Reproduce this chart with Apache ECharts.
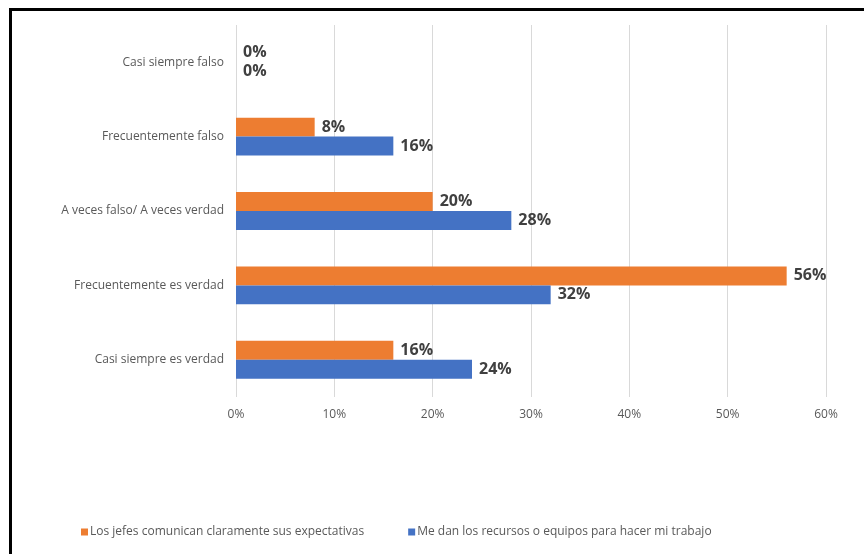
<!DOCTYPE html>
<html>
<head>
<meta charset="utf-8">
<script src="https://cdn.jsdelivr.net/npm/echarts@6/dist/echarts.min.js"></script>
<style>
  html, body { margin: 0; padding: 0; background: #fff; }
  #chart { width: 864px; height: 554px; }
</style>
</head>
<body>
<div id="chart"></div>
<script>
// categorias (de arriba hacia abajo)
var categorias = ['Casi siempre falso', 'Frecuentemente falso', 'A veces falso/ A veces verdad', 'Frecuentemente es verdad', 'Casi siempre es verdad'];
var nombres = ['Los jefes comunican claramente sus expectativas', 'Me dan los recursos o equipos para hacer mi trabajo'];
var jefes = [0, 8, 20, 56, 16];
var recursos = [0, 16, 28, 32, 24];
var colores = ['#ED7D31', '#4472C4'];

var myChart = echarts.init(document.getElementById('chart'));
var fuente = 'Open Sans';

var etiqueta = {
    show: true,
    position: 'right',
    distance: 7,
    formatter: '{c}%',
    color: '#404040',
    fontWeight: 'bold',
    fontSize: 16,
    fontFamily: fuente
};

var option = {
    animation: false,
    textStyle: { fontFamily: fuente },
    graphic: [{
        type: 'rect',
        shape: { x: 10.5, y: 9.5, width: 900, height: 600 },
        style: { fill: null, stroke: '#000', lineWidth: 3 }
    }],
    grid: {
        left: 236,
        right: 38,
        top: 25,
        bottom: 157
    },
    legend: {
        bottom: 11,
        left: 76,
        itemGap: 44,
        itemWidth: 7,
        itemHeight: 7,
        itemStyle: { borderWidth: 0 },
        icon: 'rect',
        data: nombres,
        textStyle: { color: '#595959', fontSize: 12, fontFamily: fuente, padding: [0, 0, 0, -3] }
    },
    xAxis: {
        type: 'value',
        min: 0,
        max: 60,
        interval: 10,
        axisLine: { show: false },
        axisTick: { show: false },
        axisLabel: {
            formatter: '{value}%',
            color: '#595959',
            fontSize: 12,
            margin: 12
        },
        splitLine: { lineStyle: { color: '#D9D9D9' } }
    },
    yAxis: {
        type: 'category',
        inverse: true,
        data: categorias,
        axisLine: { show: false },
        axisTick: { show: false },
        axisLabel: { color: '#595959', fontSize: 12, margin: 12 }
    },
    series: [{
        name: nombres[0],
        type: 'bar',
        data: jefes,
        itemStyle: { color: colores[0] },
        barGap: '0%',
        barCategoryGap: '49%',
        label: etiqueta
    }, {
        name: nombres[1],
        type: 'bar',
        data: recursos,
        itemStyle: { color: colores[1] },
        barGap: '0%',
        barCategoryGap: '49%',
        label: etiqueta
    }]
};

myChart.setOption(option);
</script>
</body>
</html>
